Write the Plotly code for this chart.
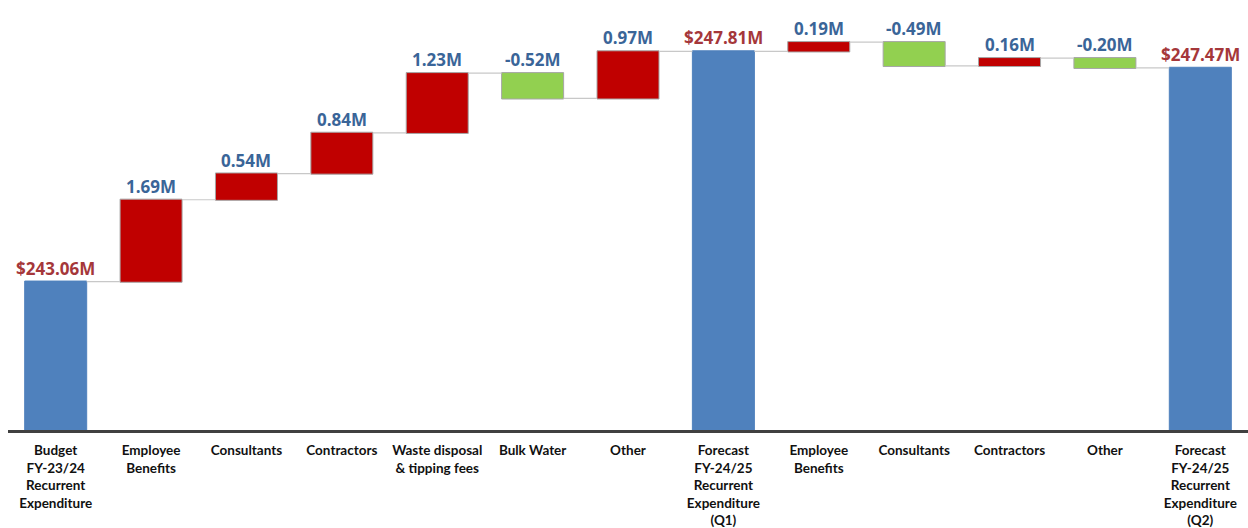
import plotly.graph_objects as go

categories = [
    "Budget<br>FY-23/24<br>Recurrent<br>Expenditure",
    "Employee<br>Benefits",
    "Consultants",
    "Contractors",
    "Waste disposal<br>& tipping fees",
    "Bulk Water",
    "Other",
    "Forecast<br>FY-24/25<br>Recurrent<br>Expenditure<br>(Q1)",
    "Employee<br>Benefits",
    "Consultants",
    "Contractors",
    "Other",
    "Forecast<br>FY-24/25<br>Recurrent<br>Expenditure<br>(Q2)",
]
values = [243.06, 1.69, 0.54, 0.84, 1.23, -0.52, 0.97, 247.81, 0.19, -0.49, 0.16, -0.20, 247.47]
measures = ["absolute", "relative", "relative", "relative", "relative", "relative", "relative",
            "total", "relative", "relative", "relative", "relative", "total"]
labels = ["$243.06M", "1.69M", "0.54M", "0.84M", "1.23M", "-0.52M", "0.97M",
          "$247.81M", "0.19M", "-0.49M", "0.16M", "-0.20M", "$247.47M"]

x = list(range(len(categories)))

fig = go.Figure()
fig.add_trace(go.Waterfall(
    x=x, y=values, measure=measures, orientation="v",
    increasing=dict(marker=dict(color="#C00000", line=dict(color="#A6A6A6", width=1))),
    decreasing=dict(marker=dict(color="#92D050", line=dict(color="#A6A6A6", width=1))),
    totals=dict(marker=dict(color="#4F81BD", line=dict(color="#4F81BD", width=1))),
    connector=dict(line=dict(color="#C8C8C8", width=1.2), mode="between"),
    hoverinfo="skip", showlegend=False,
))

# label positions from running totals
running = 0.0
for i, (v, m, lab) in enumerate(zip(values, measures, labels)):
    if m == "absolute":
        running = v
        top = v
        col = "#A5373A"
    elif m == "total":
        top = running
        col = "#A5373A"
    else:
        prev = running
        running = running + v
        top = max(prev, running)
        col = "#3A6598"
    fig.add_annotation(x=i, y=top, text="<b>" + lab + "</b>", showarrow=False,
                       yanchor="bottom", yshift=0,
                       font=dict(family="Open Sans", size=17, color=col))

fig.update_layout(
    width=1248, height=528,
    margin=dict(l=8, r=0, t=0, b=98),
    plot_bgcolor="white", paper_bgcolor="white",
    waterfallgap=0.35,
    xaxis=dict(range=[-0.5, len(categories) - 0.5], tickvals=x,
               ticktext=["<b>" + c + "</b>" for c in categories],
               showline=True, linecolor="#404040", linewidth=2.5,
               showgrid=False, zeroline=False, ticks="", ticklabelstandoff=6,
               tickfont=dict(family="Lato", size=13.5, color="#111111")),
    yaxis=dict(range=[240, 248.87], visible=False, showgrid=False, zeroline=False),
)

fig.write_html("out.html")
